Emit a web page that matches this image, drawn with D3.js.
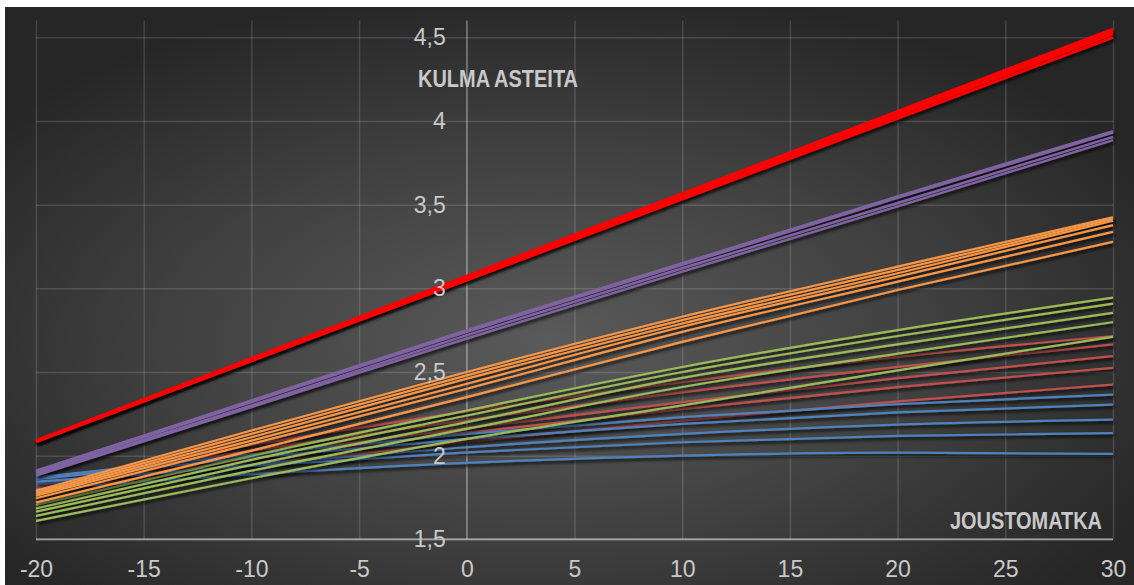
<!DOCTYPE html>
<html>
<head>
<meta charset="utf-8">
<script src="https://cdn.jsdelivr.net/npm/d3@7"></script>
<style>
  html, body { margin: 0; padding: 0; background: #ffffff; }
  svg { display: block; }
</style>
</head>
<body>
<svg id="chart" width="1134" height="585"></svg>
<script>
// ---- data ----
const xValues = [-20, -10, 0, 10, 20, 30];
const xTicks = [-20, -15, -10, -5, 0, 5, 10, 15, 20, 25, 30];
const yTicks = [1.5, 2, 2.5, 3, 3.5, 4, 4.5];

const blueSeries = [
  [1.87, 2.008, 2.13, 2.23, 2.308, 2.365],
  [1.86, 1.988, 2.10, 2.19, 2.258, 2.305],
  [1.83, 1.945, 2.05, 2.13, 2.185, 2.215],
  [1.845, 1.938, 2.02, 2.08, 2.118, 2.135],
  [1.80, 1.889, 1.957, 2.00, 2.018, 2.01]
];
const brickSeries = [
  [1.84, 2.065, 2.265, 2.44, 2.59, 2.715],
  [1.83, 2.03, 2.213, 2.38, 2.531, 2.665],
  [1.82, 1.998, 2.165, 2.32, 2.463, 2.595],
  [1.81, 1.98, 2.137, 2.28, 2.409, 2.525],
  [1.79, 1.943, 2.083, 2.21, 2.324, 2.425]
];
const greenSeries = [
  [1.705, 2.00, 2.27, 2.53, 2.75, 2.944],
  [1.685, 1.975, 2.24, 2.50, 2.715, 2.908],
  [1.665, 1.945, 2.20, 2.465, 2.665, 2.854],
  [1.64, 1.91, 2.16, 2.41, 2.61, 2.798],
  [1.61, 1.865, 2.10, 2.30, 2.51, 2.71]
];
const orangeSeries = [
  [1.79, 2.15, 2.50, 2.83, 3.13, 3.425],
  [1.78, 2.13, 2.48, 2.81, 3.11, 3.414],
  [1.77, 2.11, 2.46, 2.79, 3.09, 3.404],
  [1.76, 2.09, 2.43, 2.77, 3.07, 3.378],
  [1.745, 2.07, 2.40, 2.74, 3.04, 3.338],
  [1.72, 2.03, 2.35, 2.68, 2.99, 3.278]
];
const purpleSeries = [
  [1.91, 2.33, 2.75, 3.15, 3.55, 3.94],
  [1.90, 2.32, 2.74, 3.14, 3.54, 3.93],
  [1.89, 2.30, 2.72, 3.12, 3.51, 3.905],
  [1.88, 2.29, 2.70, 3.10, 3.49, 3.885]
];
const redSeries = [
  [2.09, 2.582, 3.074, 3.566, 4.058, 4.55],
  [2.088, 2.577, 3.067, 3.556, 4.045, 4.535],
  [2.085, 2.572, 3.059, 3.546, 4.033, 4.52],
  [2.082, 2.566, 3.049, 3.533, 4.016, 4.50]
];

const yTitle = "KULMA ASTEITA";
const xTitle = "JOUSTOMATKA";

// ---- layout ----
const W = 1134, H = 585;
const svg = d3.select("#chart");
const defs = svg.append("defs");

const grad = defs.append("radialGradient")
  .attr("id", "bg").attr("cx", "48%").attr("cy", "58%").attr("r", "62%");
grad.append("stop").attr("offset", "0%").attr("stop-color", "#5a5a5a");
grad.append("stop").attr("offset", "55%").attr("stop-color", "#404040");
grad.append("stop").attr("offset", "100%").attr("stop-color", "#262626");

const shadow = defs.append("filter").attr("id", "shadow")
  .attr("filterUnits", "userSpaceOnUse")
  .attr("x", 0).attr("y", 0).attr("width", W).attr("height", H);
shadow.append("feDropShadow")
  .attr("dx", 1.5).attr("dy", 2.5).attr("stdDeviation", 1.6)
  .attr("flood-color", "#000").attr("flood-opacity", 0.85);

svg.append("rect").attr("x", 5).attr("y", 7).attr("width", W - 5).attr("height", H - 7)
  .attr("fill", "url(#bg)");

const x = d3.scaleLinear().domain([-20, 30]).range([36, 1113]);
const y = d3.scaleLinear().domain([1.5, 4.6]).range([539.3, 20.6]);

const fontNarrow = "'Liberation Sans Narrow', 'Arial Narrow', 'Liberation Sans', Arial, sans-serif";
const labelColor = "#c9c9c9";

// gridlines
const gridY = svg.append("g").attr("transform", `translate(${x(-20)},0)`)
  .call(d3.axisLeft(y).tickValues(yTicks).tickSize(-(x(30) - x(-20))).tickFormat(""));
const gridX = svg.append("g").attr("transform", `translate(0,${y(1.5)})`)
  .call(d3.axisBottom(x).tickValues(xTicks).tickSize(-(y(1.5) - y(4.6))).tickFormat(""));
[gridY, gridX].forEach(g => {
  g.select(".domain").remove();
  g.selectAll(".tick line").attr("stroke", "rgba(255,255,255,0.14)").attr("stroke-width", 1.5);
});

// axis lines
svg.append("line").attr("x1", x(0)).attr("x2", x(0)).attr("y1", y(4.6)).attr("y2", y(1.5))
  .attr("stroke", "rgba(255,255,255,0.30)").attr("stroke-width", 1.5);

// series
const line = d3.line()
  .x((d, i) => x(xValues[i]))
  .y(d => y(d))
  .curve(d3.curveMonotoneX);

const groups = [
  { data: brickSeries, color: "#c0504d", w: 2.2 },
  { data: blueSeries, color: "#4f81bd", w: 2.2 },
  { data: greenSeries, color: "#9bbb59", w: 2.2 },
  { data: orangeSeries, color: "#f79646", w: 2.2 },
  { data: purpleSeries, color: "#8064a2", w: 2.4 },
  { data: redSeries, color: "#ff0000", w: 2.8 }
];
const plot = svg.append("g");
groups.forEach(gr => {
  gr.data.forEach(s => {
    plot.append("path").datum(s)
      .attr("d", line)
      .attr("fill", "none")
      .attr("stroke", gr.color)
      .attr("stroke-width", gr.w)
      .attr("stroke-linecap", "butt")
      .attr("filter", "url(#shadow)");
  });
});

// x axis line
svg.append("line").attr("x1", x(-20)).attr("x2", x(30)).attr("y1", y(1.5)).attr("y2", y(1.5))
  .attr("stroke", "rgba(255,255,255,0.45)").attr("stroke-width", 2);

// tick labels
const commaFmt = d => String(d).replace(".", ",");
const xAxis = svg.append("g").attr("transform", `translate(0,${y(1.5)})`)
  .call(d3.axisBottom(x).tickValues(xTicks).tickSize(0).tickPadding(21).tickFormat(d => String(d)));
const yAxis = svg.append("g").attr("transform", `translate(${x(0)},0)`)
  .call(d3.axisLeft(y).tickValues(yTicks).tickSize(0).tickPadding(21).tickFormat(commaFmt));
[xAxis, yAxis].forEach(g => {
  g.select(".domain").remove();
  g.selectAll("text").attr("fill", labelColor)
    .style("font-family", fontNarrow).style("font-size", "23px");
});

// titles
svg.append("text").attr("x", 418).attr("y", 87).text(yTitle)
  .attr("fill", labelColor).style("font-family", fontNarrow).style("font-size", "24px")
  .style("font-weight", "bold").attr("textLength", 160).attr("lengthAdjust", "spacingAndGlyphs");
svg.append("text").attr("x", 950).attr("y", 529).text(xTitle)
  .attr("fill", labelColor).style("font-family", fontNarrow).style("font-size", "24px")
  .style("font-weight", "bold").attr("textLength", 152).attr("lengthAdjust", "spacingAndGlyphs");
</script>
</body>
</html>
